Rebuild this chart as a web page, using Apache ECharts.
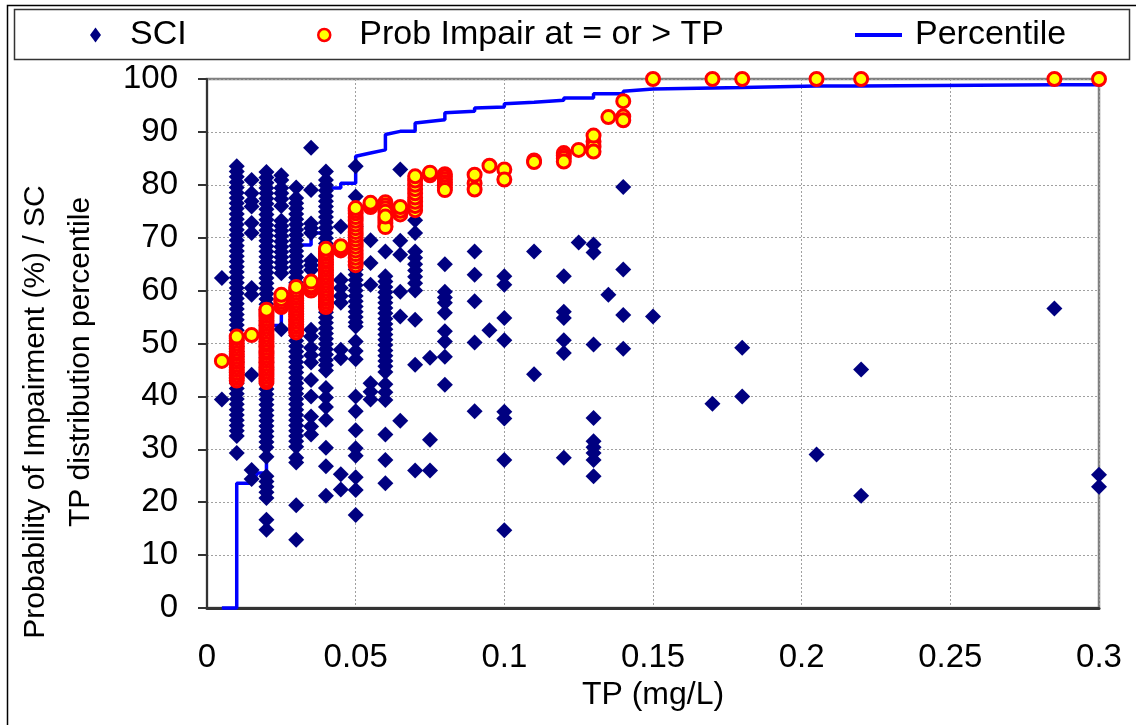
<!DOCTYPE html>
<html><head><meta charset="utf-8">
<script src="https://cdn.jsdelivr.net/npm/echarts@6/dist/echarts.min.js"></script>
<style>html,body{margin:0;padding:0;background:#fff}#c{width:1136px;height:725px}</style>
</head><body><div id="c"></div><script>
// ---------- DATA ----------
const xTickLabels = ['0', '0.05', '0.1', '0.15', '0.2', '0.25', '0.3'];
const yTickLabels = ['0', '10', '20', '30', '40', '50', '60', '70', '80', '90', '100'];

// SCI values grouped by TP (mg/L)
const sciTP = [0.005, 0.01, 0.015, 0.02, 0.025, 0.03, 0.035, 0.04, 0.045, 0.05, 0.055, 0.06, 0.065, 0.07, 0.075, 0.08, 0.09, 0.095, 0.1, 0.11, 0.12, 0.125, 0.13, 0.135, 0.14, 0.15, 0.17, 0.18, 0.205, 0.22, 0.285, 0.3];
const sciValues = [
  [62.4, 39.4],
  [83.5, 82.5, 81.5, 80.5, 79.5, 78.5, 77.5, 76.5, 75.5, 74.5, 73.5, 72.5, 71.5, 70.5, 69.5, 68.5, 67.5, 66.5, 65.5, 64.5, 63.5, 62.5, 61.5, 60.5, 59.5, 58.5, 57.5, 56.5, 55.5, 54.5, 53.5, 52.5, 51.5, 50.5, 49.5, 48.5, 47.5, 46.5, 45.5, 44.5, 43.5, 42.5, 41.5, 40.5, 39.5, 38.5, 37.5, 36.5, 35.5, 34.5, 33.5, 32.5, 29.3],
  [80.9, 78.4, 76.9, 75.9, 72.8, 70.9, 60.5, 59.2, 44.1, 26.1, 24.4],
  [82.4, 81.4, 80.4, 79.4, 78.4, 77.4, 76.4, 75.4, 74.4, 73.4, 72.4, 71.4, 70.4, 69.4, 68.4, 67.4, 66.4, 65.4, 64.4, 63.4, 62.4, 61.4, 60.4, 59.4, 58.4, 57.4, 56.4, 55.4, 54.4, 53.4, 52.4, 51.4, 50.4, 49.4, 48.4, 47.4, 46.4, 45.4, 44.4, 43.4, 42.4, 41.4, 40.4, 39.4, 38.4, 37.4, 36.4, 35.4, 34.4, 33.4, 32.4, 31.4, 30.4, 28.6, 24.9, 23.9, 22.9, 21.9, 20.8, 16.7, 14.8],
  [81.8, 80.9, 79.4, 78.4, 77.3, 76, 73.2, 72.2, 71.3, 70.3, 69.3, 68.3, 67.3, 66.3, 65.3, 64.3, 63.3, 52.7],
  [79.5, 77.5, 76.5, 75.5, 74.5, 73.5, 72.5, 71.5, 70.5, 69.5, 68.5, 67.5, 66.5, 65.5, 64.5, 63.5, 62.5, 61.5, 60.5, 59.5, 58.5, 57.5, 56.5, 55.5, 54.5, 53.5, 52.5, 51.5, 50.5, 49.5, 48.5, 47.5, 46.5, 45.5, 44.5, 43.5, 42.5, 41.5, 40.5, 39.5, 38.5, 37.5, 36.5, 35.5, 34.5, 33.5, 32.5, 31.5, 30.5, 28.4, 27.5, 19.4, 12.9],
  [87, 79, 72.7, 71.8, 70.9, 65.7, 64.8, 63.9, 52.6, 51.3, 49.2, 47.8, 46.4, 43.1, 40, 36.2, 34.3, 32.8],
  [82.5, 80.9, 79.9, 78.9, 77.9, 76.9, 75.9, 74.9, 73.9, 72.9, 71.9, 70.9, 69.9, 68.9, 67.9, 66.9, 65.9, 64.9, 63.9, 62.9, 61.9, 60.9, 59.9, 58.9, 57.9, 56.9, 55.9, 54.9, 53.9, 52.9, 51.9, 50.9, 49.9, 48.9, 47.9, 46.9, 45.9, 44.9, 41.6, 39.8, 38, 35.6, 30.3, 26.8, 21.2],
  [72.1, 62, 60.5, 59, 57.7, 48.8, 47.2, 25.3, 22.4],
  [83.5, 77.8, 72.1, 65, 64, 63, 62, 61, 60, 59, 58, 57, 56, 55, 54, 53.2, 50.4, 48.6, 47, 40, 37.2, 33.6, 30.2, 28.8, 24.7, 22.3, 17.6],
  [69.5, 65.2, 61.1, 42.5, 40.9, 39.4],
  [67.4, 62.7, 61.7, 60.7, 59.7, 58.7, 57.7, 56.7, 55.7, 54.7, 53.7, 52.7, 51.7, 50.7, 49.7, 48.7, 47.7, 46.7, 45.7, 44.6, 42.3, 40.8, 39.3, 32.8, 28, 23.6],
  [82.9, 69.4, 66.8, 59.8, 55.1, 35.4],
  [73.3, 70.9, 67.4, 66.2, 65, 63.8, 62.6, 61.4, 60, 54.5, 46, 26],
  [47.3, 31.8, 26],
  [65, 59.8, 58.7, 57.7, 55.8, 52.3, 50.4, 47.5, 42.2],
  [67.4, 63, 58, 50.2, 37.2],
  [52.5],
  [62.7, 61.1, 54.8, 50.6, 37.1, 35.8, 28, 14.7],
  [67.4, 44.2],
  [62.7, 56, 54.8, 50.6, 48.2, 28.4],
  [69.1],
  [68.7, 67.2, 49.8, 35.9, 31.5, 30.4, 29.3, 28, 24.9],
  [59.2],
  [79.6, 64, 55.4, 49],
  [55.1],
  [38.6],
  [49.2, 40],
  [29],
  [45.1, 21.2],
  [56.6],
  [25.2, 22.9]
];

// Probability of impairment at >= TP, grouped by TP (in drawing order)
const probTP = [0.005, 0.01, 0.015, 0.02, 0.025, 0.03, 0.035, 0.04, 0.045, 0.05, 0.055, 0.06, 0.065, 0.07, 0.075, 0.08, 0.09, 0.095, 0.1, 0.11, 0.12, 0.125, 0.13, 0.135, 0.14, 0.15, 0.17, 0.18, 0.205, 0.22, 0.285, 0.3];
const probValues = [
  [46.7],
  [43, 43.5, 44, 44.5, 45, 45.5, 46, 46.5, 47, 47.5, 48, 48.5, 49, 49.5, 50, 50.5, 51, 51.3],
  [51.6],
  [42.7, 43.2, 43.7, 44.2, 44.7, 45.2, 45.7, 46.2, 46.7, 47.2, 47.7, 48.2, 48.7, 49.2, 49.7, 50.2, 50.7, 51.2, 51.7, 52.2, 52.7, 53.2, 53.7, 54.2, 54.7, 55.2, 55.7, 56, 56.4],
  [56.9, 57.4, 57.9, 58.4, 59.2],
  [52.1, 52.6, 53.1, 53.6, 54.1, 54.6, 55.1, 55.6, 56.1, 56.6, 57.1, 57.6, 58.1, 58.6, 59.1, 59.6, 60.1, 60.7],
  [60, 60.5, 61, 61.7],
  [56.9, 57.4, 57.9, 58.4, 58.9, 59.4, 59.9, 60.4, 60.9, 61.4, 61.9, 62.4, 62.9, 63.4, 63.9, 64.4, 64.9, 65.4, 65.9, 66.4, 66.9, 67.4, 67.9],
  [67.6, 68, 68.4],
  [64.8, 65.5, 66.2, 66.9, 67.6, 68.3, 69, 69.7, 70.4, 71.1, 71.8, 72.5, 73.2, 73.9, 74.6, 75.1, 75.6],
  [75.8, 76.2, 76.6],
  [76.7, 76.1, 75.5, 74.9, 73.4, 72.8, 72.2, 72, 74],
  [74.4, 75.1, 75.8],
  [75.2, 76, 76.8, 77.6, 78.4, 79.2, 80, 80.8, 81.6],
  [81.8, 82.3],
  [82, 81.5, 81, 80.5, 80, 79.5, 79],
  [80.3, 81.9, 79.1],
  [83.6],
  [82.9, 81],
  [84.6, 84.3],
  [86, 85.5, 85, 84.4],
  [86.6],
  [88.2, 87.2, 89.3, 86.3],
  [92.8],
  [95.8, 92.9, 92.2],
  [100], [100], [100], [100], [100], [100], [100]
];

// TP distribution percentile (step curve)
const pctTP = [0.005, 0.01, 0.01, 0.015, 0.017, 0.02, 0.02, 0.025, 0.025, 0.03, 0.03, 0.035, 0.035, 0.04, 0.04, 0.045, 0.045, 0.05, 0.05, 0.055, 0.06, 0.06, 0.065, 0.07, 0.07, 0.08, 0.08, 0.09, 0.09, 0.1, 0.1, 0.11, 0.12, 0.12, 0.13, 0.13, 0.14, 0.14, 0.15, 0.17, 0.18, 0.205, 0.22, 0.285, 0.3, 0.303];
const pctVal = [0, 0, 23.6, 23.6, 25.5, 25.5, 53.4, 53.4, 58, 58, 68.6, 68.6, 70.9, 70.9, 79.4, 79.4, 80.3, 80.3, 85.4, 86.0, 86.6, 89.5, 90.1, 90.1, 91.7, 92.3, 93.6, 93.9, 94.5, 94.7, 95.3, 95.6, 96.0, 96.4, 96.4, 97.2, 97.2, 97.7, 98.1, 98.3, 98.4, 98.7, 98.7, 98.9, 98.9, 98.9];

const seriesNames = ['SCI', 'Prob Impair at = or > TP', 'Percentile'];
const axisTitleX = 'TP (mg/L)';
const axisTitleY1 = 'Probability of Impairment (%) / SC';
const axisTitleY2 = 'TP distribution percentile';

// ---------- BUILD ----------
const sciData = [];
sciTP.forEach((tp, i) => sciValues[i].forEach(v => sciData.push([tp, v])));
const probData = [];
probTP.forEach((tp, i) => probValues[i].forEach(v => probData.push([tp, v])));
const pctData = pctTP.map((tp, i) => [tp, pctVal[i]]);

const FONT = '"Liberation Sans", Arial, sans-serif';
const chart = echarts.init(document.getElementById('c'), null, {renderer: 'canvas'});

function legendText(pad) {
  return {fontFamily: FONT, fontSize: 34, color: '#000', padding: [0, 0, 0, pad]};
}
const legendBase = {orient: 'horizontal', padding: 0, top: 18, itemGap: 0, selectedMode: false};

chart.setOption({
  animation: false,
  backgroundColor: '#fff',
  textStyle: {fontFamily: FONT},
  grid: {left: 207, right: 37, top: 79, bottom: 117, show: true, borderColor: '#808080', borderWidth: 2.5, backgroundColor: 'transparent'},
  legend: [
    Object.assign({}, legendBase, {left: 90, itemWidth: 11, itemHeight: 15, textStyle: legendText(24),
      data: [{name: seriesNames[0], icon: 'diamond'}]}),
    Object.assign({}, legendBase, {left: 317, itemWidth: 12, itemHeight: 12, textStyle: legendText(24),
      data: [{name: seriesNames[1], icon: 'circle', itemStyle: {color: '#ffff00', borderColor: '#ff0000', borderWidth: 2.5}}]}),
    Object.assign({}, legendBase, {left: 855, itemWidth: 47, itemHeight: 4, textStyle: legendText(8),
      data: [{name: seriesNames[2], icon: 'rect', itemStyle: {color: '#0000ff'}}]})
  ],
  xAxis: {
    type: 'value', min: 0, max: 0.3, interval: 0.05,
    name: axisTitleX, nameLocation: 'middle', nameGap: 68,
    nameTextStyle: {fontFamily: FONT, fontSize: 32, color: '#000'},
    axisLine: {show: true, onZero: false, lineStyle: {color: '#333', width: 3}},
    axisTick: {show: false},
    axisLabel: {fontFamily: FONT, fontSize: 33, color: '#000', margin: 33,
      formatter: v => xTickLabels[Math.round(v / 0.05)]},
    splitLine: {show: true, lineStyle: {color: '#a0a0a0', type: [2, 2], width: 1}}
  },
  yAxis: {
    type: 'value', min: 0, max: 100, interval: 10,
    axisLine: {show: true, onZero: false, lineStyle: {color: '#333', width: 2}},
    axisTick: {show: true, inside: false, length: 9, lineStyle: {color: '#333', width: 2}},
    axisLabel: {fontFamily: FONT, fontSize: 33, color: '#000', margin: 29,
      formatter: v => yTickLabels[Math.round(v / 10)]},
    splitLine: {show: true, lineStyle: {color: '#a0a0a0', type: [2, 2], width: 1}}
  },
  graphic: [
    {type: 'rect', z: 0, silent: true, shape: {x: 7.5, y: 5.5, width: 1150, height: 740},
      style: {fill: 'none', stroke: '#000', lineWidth: 1.5}},
    {type: 'rect', z: 0, silent: true, shape: {x: 14.5, y: 9.5, width: 1115, height: 50},
      style: {fill: 'none', stroke: '#333', lineWidth: 1.5}},
    {type: 'text', z: 10, silent: true, x: 36, y: 412, rotation: Math.PI / 2,
      style: {text: axisTitleY1, fontFamily: FONT, fontSize: 30, fill: '#000', align: 'center', verticalAlign: 'middle'}},
    {type: 'text', z: 10, silent: true, x: 81, y: 362, rotation: Math.PI / 2,
      style: {text: axisTitleY2, fontFamily: FONT, fontSize: 30, fill: '#000', align: 'center', verticalAlign: 'middle'}}
  ],
  series: [
    {name: seriesNames[2], type: 'line', data: pctData, symbol: 'none', clip: false,
      lineStyle: {color: '#0000ff', width: 3.5}, itemStyle: {color: '#0000ff'}, z: 2},
    {name: seriesNames[0], type: 'scatter', data: sciData, symbol: 'diamond', symbolSize: 16, clip: false,
      itemStyle: {color: '#000080', opacity: 1}, z: 3},
    {name: seriesNames[1], type: 'scatter', data: probData, symbol: 'circle', symbolSize: 13, clip: false,
      itemStyle: {color: '#ffff00', borderColor: '#ff0000', borderWidth: 3, opacity: 1}, z: 4}
  ]
});
</script></body></html>
